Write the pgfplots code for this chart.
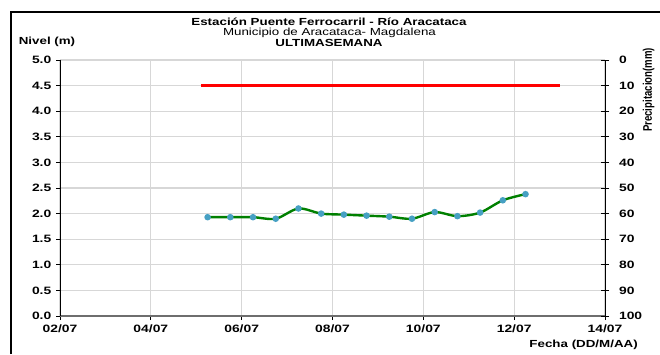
\documentclass[border=0pt]{standalone}
\usepackage{fontspec}
\setmainfont{Liberation Sans}[FakeStretch=1.3]
\newfontfamily\plainsans{Liberation Sans}
\usepackage{pgfplots}
\pgfplotsset{compat=1.18}
\definecolor{gridc}{RGB}{215,215,215}
\definecolor{axgray}{RGB}{110,110,110}
\definecolor{linegreen}{RGB}{0,128,0}
\definecolor{markc}{RGB}{70,160,195}
\begin{document}
\begin{tikzpicture}
\useasboundingbox (0,0) rectangle (495pt,265.5pt);
\begin{axis}[
  at={(45pt,28.5pt)}, anchor=south west,
  scale only axis, width=408.75pt, height=192pt,
  xmin=2, xmax=14, ymin=0, ymax=5,
  axis lines*=left,
  xtick={2,4,6,8,10,12,14},
  xticklabels={02/07,04/07,06/07,08/07,10/07,12/07,14/07},
  ytick={0,0.5,...,5.0},
  yticklabel style={/pgf/number format/fixed,/pgf/number format/precision=1,/pgf/number format/fixed zerofill},
  /pgf/number format/assume math mode=true,
  tick label style={font=\fontsize{8}{9}\selectfont\bfseries},
  grid=major,
  major grid style={gridc, line width=0.9pt},
  x axis line style={axgray, line width=1.4pt, -},
  y axis line style={black, line width=0.7pt, -},
  tick align=outside,
  major tick length=3pt,
  tick style={black, line width=0.6pt},
  clip=false,
]
\addplot[red, line width=1.8pt] coordinates {(5.1,4.5) (13.0,4.5)};
\addplot[linegreen, line width=1.8pt, smooth, tension=0.5, mark=*, mark size=1.5pt, mark options={fill=markc, draw=markc}] coordinates {
(5.25,1.93) (5.75,1.93) (6.25,1.93) (6.75,1.90) (7.25,2.10) (7.75,2.00)
(8.25,1.98) (8.75,1.96) (9.25,1.94) (9.75,1.90) (10.25,2.03) (10.75,1.95)
(11.25,2.02) (11.75,2.26) (12.25,2.38)};
\end{axis}
\begin{axis}[
  at={(45pt,28.5pt)}, anchor=south west,
  scale only axis, width=408.75pt, height=192pt,
  xmin=2, xmax=14, ymin=0, ymax=100, y dir=reverse,
  axis x line=none, axis y line*=right,
  ytick={0,10,...,100},
  /pgf/number format/assume math mode=true,
  tick label style={font=\fontsize{8}{9}\selectfont\bfseries},
  y axis line style={black, line width=0.7pt, -},
  tick align=center, major tick length=6pt,
  tick style={black, line width=0.6pt},
  yticklabel style={xshift=4pt},
]
\end{axis}
\draw[black, line width=1.6pt] (8.25pt,0) -- (8.25pt,256.5pt) -- (495pt,256.5pt);
\node[font=\fontsize{7.7}{8}\selectfont\bfseries, inner sep=0] at (246.75pt,249.2pt) {Estación Puente Ferrocarril - Río Aracataca};
\node[font=\fontsize{7.7}{8}\selectfont, inner sep=0] at (247.1pt,241.1pt) {Municipio de Aracataca- Magdalena};
\node[font=\fontsize{7.7}{8}\selectfont\bfseries, inner sep=0] at (246.75pt,232.9pt) {ULTIMASEMANA};
\node[font=\fontsize{7.7}{8}\selectfont\bfseries, inner sep=0] at (35.25pt,234.2pt) {Nivel (m)};
\node[font=\plainsans\fontsize{7.2}{8}\selectfont\bfseries, inner sep=0, rotate=90] at (486.5pt,198pt) {\scalebox{1}[1.3]{Precipitacion(mm)}};
\node[font=\fontsize{7.7}{8}\selectfont\bfseries, inner sep=0, anchor=east] at (478.5pt,6.75pt) {Fecha (DD/M/AA)};
\end{tikzpicture}
\end{document}
